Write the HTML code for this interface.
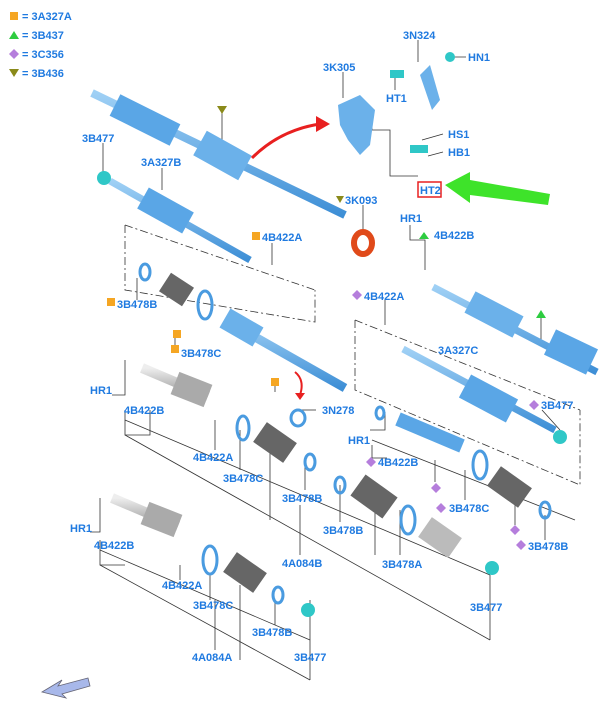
<!DOCTYPE html>
<html><head><meta charset="utf-8"><style>
html,body{margin:0;padding:0;background:#fff;}
svg text{font-family:"Liberation Sans",sans-serif;font-size:11px;font-weight:bold;fill:#1f7ae0;}
</style></head><body>
<svg width="600" height="709" viewBox="0 0 600 709" xmlns="http://www.w3.org/2000/svg">
<defs>
<linearGradient id="b" x1="0" y1="0" x2="0" y2="1"><stop offset="0" stop-color="#9fd0f5"/><stop offset="1" stop-color="#3e8fd6"/></linearGradient>
<linearGradient id="g" x1="0" y1="0" x2="0" y2="1"><stop offset="0" stop-color="#eee"/><stop offset="1" stop-color="#999"/></linearGradient>
</defs>
<rect x="10" y="12" width="8" height="8" fill="#f5a623"/><text x="22" y="20">= 3A327A</text>
<polygon points="14,31 19,39 9,39" fill="#2ecc40"/><text x="22" y="39">= 3B437</text>
<polygon points="14,49 19,54 14,59 9,54" fill="#b57edc"/><text x="22" y="58">= 3C356</text>
<polygon points="9,69 19,69 14,77" fill="#8a8a1a"/><text x="22" y="77">= 3B436</text>

<g stroke="#333" stroke-width="0.8" fill="none">
<line x1="418" y1="40" x2="418" y2="62"/><line x1="447" y1="57" x2="466" y2="57"/>
<line x1="343" y1="72" x2="343" y2="98"/><line x1="395" y1="90" x2="395" y2="78"/>
<polyline points="372,108 372,130 390,130 390,176 418,176"/>
<line x1="443" y1="134" x2="422" y2="140"/><line x1="443" y1="152" x2="428" y2="156"/>
<line x1="222" y1="112" x2="222" y2="142"/><line x1="103" y1="143" x2="103" y2="172"/>
<line x1="162" y1="168" x2="162" y2="190"/><line x1="363" y1="205" x2="363" y2="232"/>
<line x1="272" y1="243" x2="272" y2="265"/>
<polyline points="410,225 410,240 425,240 425,270"/>
<line x1="541" y1="318" x2="541" y2="345"/><line x1="385" y1="300" x2="385" y2="325"/>
<line x1="137" y1="300" x2="137" y2="278"/><line x1="175" y1="330" x2="175" y2="345"/>
<line x1="275" y1="383" x2="275" y2="392"/><line x1="316" y1="410" x2="300" y2="410"/>
<line x1="542" y1="410" x2="560" y2="430"/>
<polyline points="125,225 125,290 315,322 315,290" stroke-dasharray="8,3,2,3"/>
<line x1="125" y1="225" x2="315" y2="290" stroke-dasharray="8,3,2,3"/>
<polyline points="355,320 355,390 580,485 580,410" stroke-dasharray="8,3,2,3"/>
<line x1="355" y1="320" x2="580" y2="410" stroke-dasharray="8,3,2,3"/>
<polyline points="112,395 125,395 125,360"/><polyline points="125,410 125,435 150,435 150,410"/>
<line x1="125" y1="420" x2="490" y2="575"/><line x1="490" y1="575" x2="490" y2="640"/>
<line x1="125" y1="435" x2="490" y2="640"/>
<line x1="215" y1="420" x2="215" y2="450"/><line x1="240" y1="430" x2="240" y2="470"/>
<line x1="270" y1="450" x2="270" y2="520"/><line x1="305" y1="465" x2="305" y2="490"/>
<line x1="340" y1="485" x2="340" y2="522"/><line x1="375" y1="500" x2="375" y2="555"/>
<line x1="400" y1="510" x2="400" y2="555"/><line x1="300" y1="505" x2="300" y2="555"/>
<polyline points="370,430 385,430 385,412"/><polyline points="372,445 372,458 387,458"/>
<line x1="372" y1="440" x2="575" y2="520"/>
<line x1="435" y1="460" x2="435" y2="482"/><line x1="465" y1="470" x2="465" y2="500"/>
<line x1="515" y1="505" x2="515" y2="525"/><line x1="545" y1="515" x2="545" y2="540"/>
<polyline points="90,532 100,532 100,498"/><polyline points="100,540 100,565 125,565"/>
<line x1="100" y1="550" x2="310" y2="640"/><line x1="100" y1="565" x2="310" y2="680"/>
<line x1="310" y1="600" x2="310" y2="680"/>
<line x1="180" y1="565" x2="180" y2="580"/><line x1="210" y1="575" x2="210" y2="600"/>
<line x1="240" y1="585" x2="240" y2="660"/><line x1="215" y1="600" x2="215" y2="650"/>
<line x1="275" y1="600" x2="275" y2="625"/>
</g>

<g stroke-linecap="butt">
<line x1="92" y1="93" x2="345" y2="215" stroke="url(#b)" stroke-width="8"/>
<line x1="115" y1="105" x2="175" y2="135" stroke="#5aa6e6" stroke-width="24"/>
<line x1="200" y1="143" x2="245" y2="168" stroke="#6bb1ea" stroke-width="28"/>
<line x1="110" y1="181" x2="250" y2="260" stroke="url(#b)" stroke-width="7"/>
<line x1="143" y1="198" x2="188" y2="223" stroke="#5aa6e6" stroke-width="24"/>
<line x1="225" y1="320" x2="345" y2="388" stroke="url(#b)" stroke-width="9"/>
<line x1="225" y1="318" x2="258" y2="337" stroke="#6bb1ea" stroke-width="22"/>
<line x1="433" y1="287" x2="597" y2="372" stroke="url(#b)" stroke-width="7"/>
<line x1="470" y1="302" x2="518" y2="327" stroke="#6bb1ea" stroke-width="24"/>
<line x1="550" y1="342" x2="592" y2="362" stroke="#5aa6e6" stroke-width="28"/>
<line x1="403" y1="349" x2="555" y2="430" stroke="url(#b)" stroke-width="7"/>
<line x1="465" y1="386" x2="512" y2="411" stroke="#5aa6e6" stroke-width="26"/>
<line x1="398" y1="419" x2="462" y2="446" stroke="#5aa6e6" stroke-width="14"/>
<line x1="142" y1="368" x2="208" y2="396" stroke="url(#g)" stroke-width="10"/>
<line x1="175" y1="383" x2="208" y2="396" stroke="#aaa" stroke-width="24"/>
<line x1="112" y1="498" x2="178" y2="526" stroke="url(#g)" stroke-width="10"/>
<line x1="145" y1="513" x2="178" y2="526" stroke="#aaa" stroke-width="24"/>
<line x1="358" y1="485" x2="390" y2="508" stroke="#666" stroke-width="26"/>
<line x1="260" y1="432" x2="290" y2="453" stroke="#666" stroke-width="24"/>
<line x1="230" y1="562" x2="260" y2="583" stroke="#666" stroke-width="24"/>
<line x1="165" y1="282" x2="188" y2="297" stroke="#666" stroke-width="22"/>
<line x1="494" y1="476" x2="525" y2="498" stroke="#666" stroke-width="24"/>
<line x1="425" y1="527" x2="455" y2="548" stroke="#bbb" stroke-width="24"/>
</g>
<g fill="none" stroke="#4a9be0" stroke-width="3">
<ellipse cx="145" cy="272" rx="5" ry="8"/><ellipse cx="205" cy="305" rx="7" ry="14"/>
<ellipse cx="243" cy="428" rx="6" ry="12"/><ellipse cx="310" cy="462" rx="5" ry="8"/>
<ellipse cx="340" cy="485" rx="5" ry="8"/><ellipse cx="408" cy="520" rx="7" ry="14"/>
<ellipse cx="380" cy="413" rx="4" ry="6"/><ellipse cx="480" cy="465" rx="7" ry="14"/>
<ellipse cx="545" cy="510" rx="5" ry="8"/><ellipse cx="210" cy="560" rx="7" ry="14"/>
<ellipse cx="278" cy="595" rx="5" ry="8"/><ellipse cx="298" cy="418" rx="7" ry="8"/>
</g>
<ellipse cx="363" cy="243" rx="9" ry="11" fill="none" stroke="#e04a1a" stroke-width="6"/>
<g fill="#2fc7c7"><ellipse cx="104" cy="178" rx="7" ry="7"/><ellipse cx="560" cy="437" rx="7" ry="7"/>
<ellipse cx="492" cy="568" rx="7" ry="7"/><ellipse cx="308" cy="610" rx="7" ry="7"/>
<rect x="410" y="145" width="18" height="8"/><rect x="390" y="70" width="14" height="8"/><circle cx="450" cy="57" r="5"/></g>
<path d="M338,105 L360,95 L375,110 L370,145 L360,155 L348,140 L340,125Z" fill="#6bb1ea"/>
<path d="M420,75 L430,65 L440,100 L432,110 Z" fill="#6bb1ea"/>
<path d="M252,158 Q280,130 320,124" fill="none" stroke="#e82020" stroke-width="3"/>
<polygon points="316,116 330,124 316,132" fill="#e82020"/>
<polygon points="445,185 470,172 470,180 550,194 548,205 470,195 470,203" fill="#3ee32a"/>
<path d="M295,372 Q305,380 300,395" fill="none" stroke="#e82020" stroke-width="2"/>
<polygon points="295,393 305,393 300,400" fill="#e82020"/>
<polygon points="42,692 62,680 58,686 88,678 90,686 62,694 66,698" fill="#a8b8ea" stroke="#667" stroke-width="0.8"/>
<rect x="418" y="182" width="23" height="15" fill="none" stroke="#e82020" stroke-width="1.5"/>
<polygon points="217,106 227,106 222,114" fill="#8a8a1a"/>
<polygon points="336,196 344,196 340,203" fill="#8a8a1a"/>
<polygon points="541,310 546,318 536,318" fill="#2ecc40"/>
<polygon points="424,232 429,239 419,239" fill="#2ecc40"/>
<rect x="252" y="232" width="8" height="8" fill="#f5a623"/><rect x="107" y="298" width="8" height="8" fill="#f5a623"/>
<rect x="171" y="345" width="8" height="8" fill="#f5a623"/><rect x="173" y="330" width="8" height="8" fill="#f5a623"/>
<rect x="271" y="378" width="8" height="8" fill="#f5a623"/>
<g fill="#b57edc"><polygon points="357,290 362,295 357,300 352,295"/><polygon points="534,400 539,405 534,410 529,405"/>
<polygon points="371,457 376,462 371,467 366,462"/><polygon points="436,483 441,488 436,493 431,488"/>
<polygon points="515,525 520,530 515,535 510,530"/><polygon points="521,540 526,545 521,550 516,545"/>
<polygon points="441,503 446,508 441,513 436,508"/></g>
<text x="403" y="39">3N324</text><text x="468" y="61">HN1</text><text x="323" y="71">3K305</text>
<text x="386" y="102">HT1</text><text x="448" y="138">HS1</text><text x="448" y="156">HB1</text>
<text x="420" y="194">HT2</text><text x="82" y="142">3B477</text><text x="141" y="166">3A327B</text>
<text x="345" y="204">3K093</text><text x="400" y="222">HR1</text><text x="434" y="239">4B422B</text>
<text x="262" y="241">4B422A</text><text x="364" y="300">4B422A</text><text x="117" y="308">3B478B</text>
<text x="181" y="357">3B478C</text><text x="438" y="354">3A327C</text><text x="322" y="414">3N278</text>
<text x="90" y="394">HR1</text><text x="124" y="414">4B422B</text><text x="541" y="409">3B477</text>
<text x="348" y="444">HR1</text><text x="378" y="466">4B422B</text><text x="193" y="461">4B422A</text>
<text x="223" y="482">3B478C</text><text x="282" y="502">3B478B</text><text x="449" y="512">3B478C</text>
<text x="528" y="550">3B478B</text><text x="323" y="534">3B478B</text><text x="282" y="567">4A084B</text>
<text x="382" y="568">3B478A</text><text x="70" y="532">HR1</text><text x="94" y="549">4B422B</text>
<text x="162" y="589">4B422A</text><text x="193" y="609">3B478C</text><text x="470" y="611">3B477</text>
<text x="252" y="636">3B478B</text><text x="294" y="661">3B477</text><text x="192" y="661">4A084A</text>
</svg>
</body></html>
